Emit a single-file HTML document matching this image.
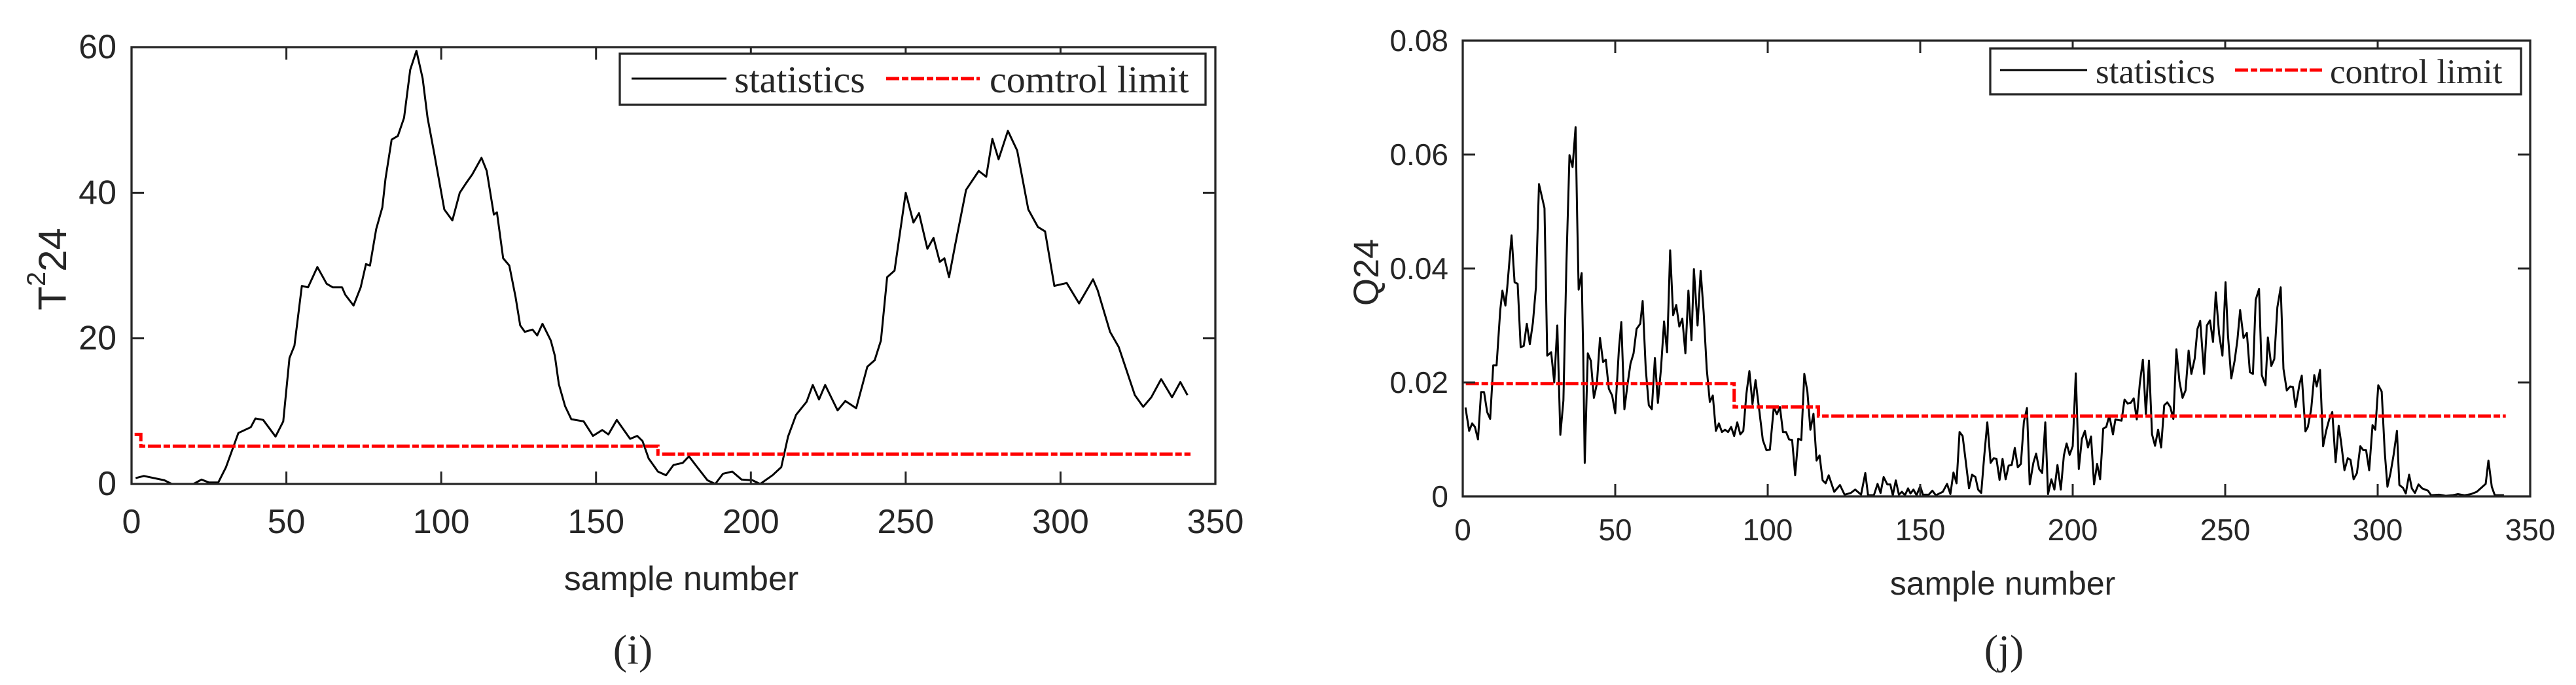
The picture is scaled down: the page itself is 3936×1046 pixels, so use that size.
<!DOCTYPE html>
<html><head><meta charset="utf-8"><style>
html,body{margin:0;padding:0;background:#fff;}
svg{display:block;}
text{font-family:"Liberation Sans",sans-serif;fill:#262626;}
.serif{font-family:"Liberation Serif",serif;}
</style></head><body>
<svg id="fig" width="3936" height="1046" viewBox="0 0 3936 1046" xmlns="http://www.w3.org/2000/svg">
<rect width="3936" height="1046" fill="#fff"/>
<g id="left"></g>
<g id="right"></g>
</svg>
<script>
// ---- T2 chart data ----
const t2Samples=[1.3,4,10.6,13,20,22.6,25,28,30.5,34.5,38.5,40,42.5,46.5,49,51,52.6,55,57,60,63,65,68,69,71.7,74,75.7,77,79,81,82,84,86,88,90,92,94,95.6,97.7,101,103.6,106,108,110,113,114.7,117,118,120,122,124,125.5,127,129.5,131,132.7,135.4,136.7,138,140,142,146,149,152,154,156.7,159,161,163.3,165,167,170,172.6,175,178,180,182.7,186,188.5,191,194,197,200.5,203,207,209.8,212,214.6,218,220,222,224,228,230.5,234,237.6,240,242,244,246.4,250,252.5,254.3,257,259,261,262.5,264,266,269.5,273.6,276,278,280,283,286,289.6,292.7,295,298,302,306,310.5,312,316,318.8,324,326.7,329.3,332.5,336,338.7,341];
const t2Values=[0.8,1.1,0.5,0,0,0.6,0.2,0.2,2.3,7,7.8,9,8.8,6.5,8.6,17.3,19,27.2,27,29.8,27.5,27,27,26,24.5,27,30.2,30,35,38,41.9,47.3,47.8,50.3,56.9,59.5,55.7,50.3,45.5,37.7,36.2,40,41.3,42.5,44.8,43,37,37.3,31,30,25.7,21.8,20.9,21.2,20.4,22,19.7,17.6,13.7,10.7,8.9,8.6,6.6,7.4,6.8,8.8,7.4,6.2,6.6,5.9,3.5,1.7,1.2,2.6,2.9,3.8,2.3,0.5,0,1.4,1.7,0.6,0.5,0,1.2,2.3,6.5,9.5,11.3,13.6,11.6,13.6,10.1,11.4,10.4,16.1,17,19.7,28.4,29.3,40,35.9,37.2,32.3,33.8,30.5,31,28.4,32.9,40.4,43,42.2,47.4,44.6,48.5,45.8,37.7,35.3,34.7,27.2,27.6,24.8,28.1,26.6,20.9,18.8,12.2,10.6,11.9,14.4,11.9,14,12.2];
const t2LimitSamples=[1,3,3,170,170,342];
const t2LimitValues=[6.8,6.8,5.2,5.2,4.1,4.1];
const t2XTicks=[0,50,100,150,200,250,300,350];
const t2YTicks=[0,20,40,60];
// ---- Q chart data ----
const qSamples=[0.9,2.1,3.1,4,5,6,7,8,9,10,11.1,12.3,13,14,14.6,16,17,18,19,20,21,22,23,24,25,26.8,27.7,29,30,31,32,33,34,35,36,37,37.5,38,39,39.5,40,41,42,43,44,45,46,46.9,47.9,49,50,51.2,52,53,54,55,56,57,58.2,59,60,61,62,63,64,65,66,67,68,69,70,71,72,73,74,75,75.8,77,78,79,80,81,82,83,84,85,86,87,88,89,90,91,92,93,94,95,96,97.3,98.4,99.6,100.7,102,103,104,105,106,107,108,109,110,111,112,113,114,115,116,117,118,119,120,121.8,123.7,125.2,127.2,128.7,130.6,132,132.9,134.8,136,137,138,139.2,140.2,141,142,143,144,145,146,146.8,147.8,148.8,150,150.9,152.8,154,155.1,157.4,158.8,159.9,160.9,161.9,162.9,163.9,164.9,166,167,168.1,169,170,171,172,173.1,174.1,175,176,177,178,179,180,181,182,183,184,185,185.9,187.1,188,189,190,191,191.9,193,194,195,196.1,197.1,198,199,200,201,202,203,204,205,206,207,208,209,210,211,212,213.2,214,216,217,218,219,220,221,222,223,224,225,226,227,228,229,230,231,232,233,234,235,236,237,238,238.9,240,240.9,241.8,243.1,244,245,246,246.9,248,249.1,250.1,250.9,252,253.1,254,254.9,256,257.1,258.1,259.1,260,261.1,262,263.2,264,265.1,266.1,267.1,268.2,269.1,270.2,271.3,272.2,273.1,274.4,275.1,276.3,277.1,278.2,279.2,280,281.1,282.1,283.1,284.1,285.1,286.2,287.2,288,289.1,290.2,291.1,292.1,293.2,294.3,295.3,296.2,297.2,298.3,299.2,300.2,301.3,302.3,303.2,304.2,305.2,306.3,307.1,308.3,309.2,310.3,311.2,312.2,313.4,314.6,316.5,317.5,320.1,322.3,324.5,326.3,328.5,330.6,332.5,335.4,336.3,337.4,338.4,341.4];
const qValues=[.0156,.0115,.0128,.0122,.0100,.0183,.0183,.0148,.0136,.0230,.0230,.0327,.0361,.0335,.0367,.0458,.0376,.0373,.0262,.0264,.0303,.0267,.0305,.0367,.0548,.0506,.0247,.0253,.0200,.0300,.0108,.0168,.0408,.0599,.0578,.0648,.0493,.0363,.0392,.0249,.0059,.0251,.0238,.0173,.0198,.0278,.0236,.0240,.0189,.0177,.0146,.0258,.0306,.0153,.0195,.0233,.0251,.0294,.0303,.0343,.0224,.0160,.0153,.0243,.0164,.0224,.0307,.0253,.0432,.0318,.0336,.0298,.0312,.0251,.0361,.0274,.0399,.0300,.0396,.0323,.0224,.0166,.0177,.0115,.0128,.0113,.0117,.0113,.0122,.0106,.0130,.0109,.0115,.0180,.0220,.0162,.0204,.0148,.0099,.0081,.0082,.0157,.0144,.0157,.0113,.0113,.0100,.0099,.0037,.0101,.0099,.0215,.0184,.0117,.0145,.0063,.0072,.0028,.0023,.0037,.0008,.0020,.0003,.0006,.0012,.0003,.0041,.0002,.0002,.0022,.0006,.0034,.0021,.0021,.0002,.0028,.0003,.0008,.0002,.0014,.0005,.0012,.0002,.0018,.0003,.0003,.0010,.0002,.0008,.0022,.0004,.0042,.0023,.0113,.0106,.0063,.0014,.0038,.0034,.0012,.0006,.0072,.0130,.0059,.0067,.0066,.0029,.0066,.0030,.0054,.0055,.0085,.0051,.0057,.0131,.0155,.0021,.0059,.0075,.0048,.0041,.0130,.0004,.0030,.0012,.0055,.0012,.0072,.0093,.0073,.0088,.0216,.0048,.0101,.0115,.0086,.0105,.0021,.0057,.0030,.0119,.0122,.0142,.0109,.0135,.0133,.0170,.0163,.0164,.0172,.0135,.0198,.0240,.0144,.0238,.0109,.0089,.0117,.0086,.0160,.0165,.0157,.0136,.0258,.0202,.0173,.0186,.0256,.0215,.0242,.0294,.0308,.0215,.0300,.0309,.0271,.0358,.0285,.0247,.0376,.0283,.0207,.0238,.0274,.0327,.0278,.0287,.0218,.0215,.0345,.0364,.0213,.0195,.0279,.0229,.0241,.0332,.0367,.0224,.0186,.0193,.0192,.0157,.0198,.0212,.0114,.0122,.0153,.0213,.0193,.0222,.0088,.0115,.0135,.0148,.0060,.0124,.0095,.0046,.0067,.0064,.0030,.0041,.0088,.0081,.0081,.0046,.0125,.0117,.0195,.0184,.0079,.0017,.0041,.0072,.0115,.0020,.0015,.0005,.0038,.0014,.0006,.0021,.0014,.0010,.0002,.0003,.0001,.0002,.0004,.0002,.0004,.0008,.0022,.0063,.0017,.0002,.0002];
const qLimitSamples=[1,89,89,116.6,116.6,342];
const qLimitValues=[.0198,.0198,.0157,.0157,.0141,.0141];
const qXTicks=[0,50,100,150,200,250,300,350];
const qYTickValues=[0,0.02,0.04,0.06,0.08];
const qYTickLabels=["0","0.02","0.04","0.06","0.08"];

const NS="http://www.w3.org/2000/svg";
function mk(parent,tag,attrs,txt){const e=document.createElementNS(NS,tag);for(const k in attrs)e.setAttribute(k,attrs[k]);if(txt!==undefined)e.textContent=txt;parent.appendChild(e);return e;}

function chart(g,cfg){
  const {L,R,T,B,xmax,ymax}=cfg;
  const sx=v=>L+v/xmax*(R-L), sy=v=>B-v/ymax*(B-T);
  let d=cfg.xs.map((x,i)=>(i?'L':'M')+sx(x).toFixed(1)+','+sy(cfg.ys[i]).toFixed(1)).join('');
  const ln=mk(g,'path',{d:d,fill:'none',stroke:'#000','stroke-width':3,'stroke-linejoin':'round'});
  
  
  let d2=cfg.lx.map((x,i)=>(i?'L':'M')+sx(x).toFixed(1)+','+sy(cfg.ly[i]).toFixed(1)).join('');
  const cl=mk(g,'path',{d:d2,fill:'none',stroke:'#ff0000','stroke-width':5,'stroke-dasharray':'20 4 10 4'});
  
  
  const bx=mk(g,'rect',{x:L,y:T,width:R-L,height:B-T,fill:'none',stroke:'#262626','stroke-width':3.3});
  
  
  cfg.xt.forEach(v=>{
    const x=sx(v);
    mk(g,'line',{x1:x,y1:B,x2:x,y2:B-19,stroke:'#262626','stroke-width':3});
    mk(g,'line',{x1:x,y1:T,x2:x,y2:T+19,stroke:'#262626','stroke-width':3});
    const t=mk(g,'text',{x:x,y:cfg.xLabY,'font-size':cfg.tf,'text-anchor':'middle','dominant-baseline':'central'},String(v));
    
    
  });
  cfg.yt.forEach((v,i)=>{
    const y=sy(v);
    mk(g,'line',{x1:L,y1:y,x2:L+19,y2:y,stroke:'#262626','stroke-width':3});
    mk(g,'line',{x1:R,y1:y,x2:R-19,y2:y,stroke:'#262626','stroke-width':3});
    const t=mk(g,'text',{x:cfg.yLabX,y:y,'font-size':cfg.tf,'text-anchor':'end','dominant-baseline':'central'},cfg.ytl?cfg.ytl[i]:String(v));
    
    
  });
}
chart(document.getElementById('left'),{L:201,R:1857,T:72,B:739,xmax:350,ymax:60,xs:t2Samples,ys:t2Values,lx:t2LimitSamples,ly:t2LimitValues,xt:t2XTicks,yt:t2YTicks,xLabY:797,yLabX:178,tf:52});
chart(document.getElementById('right'),{L:2235,R:3866,T:62,B:758,xmax:350,ymax:0.08,xs:qSamples,ys:qValues,lx:qLimitSamples,ly:qLimitValues,xt:qXTicks,yt:qYTickValues,ytl:qYTickLabels,xLabY:809,yLabX:2213,tf:46});
</script>
<svg style="position:absolute;left:0;top:0" width="3936" height="1046">
<g>
<rect x="947" y="82" width="895" height="78" fill="#fff" stroke="#262626" stroke-width="3.3"/>
<line x1="965" y1="120" x2="1110" y2="120" stroke="#000" stroke-width="3"/>
<text class="serif" x="1122" y="141" font-size="58" fill="#000">statistics</text>
<line x1="1354" y1="120" x2="1497" y2="120" stroke="#ff0000" stroke-width="5" stroke-dasharray="20 4 10 4"/>
<text class="serif" x="1512" y="141" font-size="58" fill="#000">comtrol limit</text>
</g>
<g>
<rect x="3041" y="74" width="811" height="70" fill="#fff" stroke="#262626" stroke-width="3.3"/>
<line x1="3056" y1="107" x2="3189" y2="107" stroke="#000" stroke-width="3"/>
<text class="serif" x="3202" y="127" font-size="53" fill="#000">statistics</text>
<line x1="3415" y1="107" x2="3548" y2="107" stroke="#ff0000" stroke-width="5" stroke-dasharray="20 4 10 4"/>
<text class="serif" x="3560" y="127" font-size="53" fill="#000">control limit</text>
</g>
<text x="80" y="411" font-size="60" text-anchor="middle" dominant-baseline="central" transform="rotate(-90 80 411)">T<tspan font-size="40" dy="-24">2</tspan><tspan dy="24">24</tspan></text>
<text x="2088" y="416" font-size="54" text-anchor="middle" dominant-baseline="central" transform="rotate(-90 2088 416)">Q24</text>
<text x="1041" y="884" font-size="52" text-anchor="middle" dominant-baseline="central">sample number</text>
<text x="3060" y="891" font-size="50" text-anchor="middle" dominant-baseline="central">sample number</text>
<text class="serif" x="967" y="992" font-size="64" fill="#000" text-anchor="middle" dominant-baseline="central">(i)</text>
<text class="serif" x="3062" y="992" font-size="64" fill="#000" text-anchor="middle" dominant-baseline="central">(j)</text>
</svg>
</body></html>
